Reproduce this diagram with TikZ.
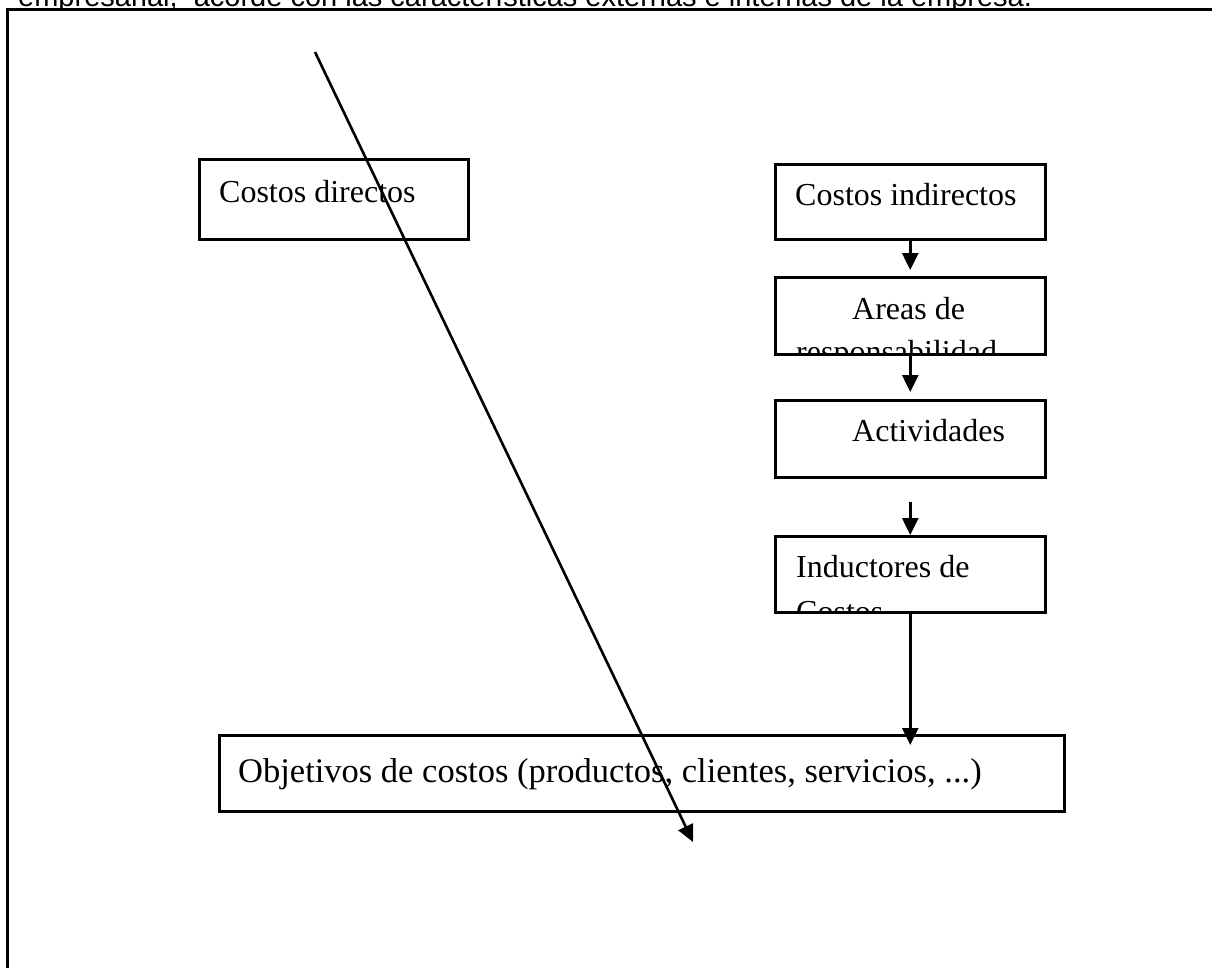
\documentclass[tikz,border=0pt]{standalone}
\usepackage{fontspec}
\setmainfont{Liberation Serif}
\newfontfamily\arialfont{Liberation Sans}
\usetikzlibrary{arrows.meta}
\begin{document}
\begin{tikzpicture}[x=1pt,y=-1pt,
  box/.style={draw,line width=2.5pt,inner sep=0pt,anchor=north west},
  lbl/.style={anchor=base west,inner sep=0pt,font=\fontsize{32}{38}\selectfont},
  arr/.style={line width=2.6pt,-{Triangle[length=17pt,width=16pt]}}]
\useasboundingbox (0,0) rectangle (1212,967);
\clip (0,0) rectangle (1212,967);
\fill[white] (0,0) rectangle (1212,967);
% cut-off heading
\node[anchor=base west,inner sep=0pt,font=\arialfont\fontsize{29}{33}\selectfont] (head) at (18,6)
  {empresarial,\ \ acorde con las características externas e internas de la empresa.};
% outer frame
\draw[line width=3pt,fill=white] (7,9.5) rectangle (1230,990);
% labels with cut-off second lines
\begin{scope}
  \clip (774,276) rectangle (1044,352);
  \node[lbl] (tar1) at (852,319) {Areas de};
  \node[lbl] (tar2) at (796,362) {responsabilidad};
\end{scope}
\begin{scope}
  \clip (774,535) rectangle (1044,610);
  \node[lbl] (tin1) at (796,577) {Inductores de};
  \node[lbl] (tin2) at (796,622) {Costos};
\end{scope}
% boxes
\node[box,minimum width=269pt,minimum height=80pt] (cd) at (198,158) {};
\node[box,minimum width=270pt,minimum height=75pt] (ci) at (774,163) {};
\node[box,minimum width=270pt,minimum height=77pt] (ar) at (774,276) {};
\node[box,minimum width=270pt,minimum height=77pt] (ac) at (774,399) {};
\node[box,minimum width=270pt,minimum height=76pt] (in) at (774,535) {};
\node[box,minimum width=845pt,minimum height=76pt] (ob) at (218,734) {};
% labels
\node[lbl] (tcd) at (219,202) {Costos directos};
\node[lbl] (tci) at (795,205) {Costos indirectos};
\node[lbl] (tac) at (852,441) {Actividades};
\node[lbl,font=\fontsize{34.5}{40}\selectfont] (tob) at (238,782) {Objetivos de costos (productos, clientes, servicios, ...)};
% arrows
\draw[arr,shorten >=6pt] (ci.south) -- (ar.north);
\draw[arr,shorten >=7pt] (ar.south) -- (ac.north);
\draw[arr,shorten <=23pt] (ac.south) -- (in.north);
\draw[arr,shorten >=-11pt] (in.south) -- (in.south |- ob.north);
\coordinate (d1) at (315,52);
\coordinate (d2) at (693,842);
\draw[arr] (d1) -- (d2);
\end{tikzpicture}
\end{document}
